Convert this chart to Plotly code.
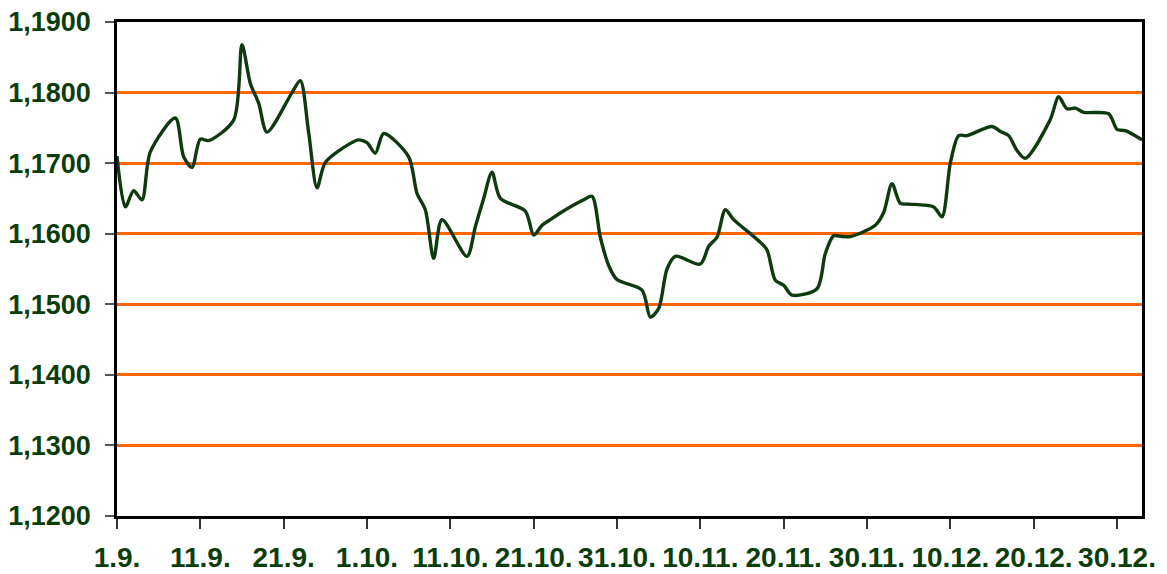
import plotly.graph_objects as go

dates = [
    "2025-09-01", "2025-09-02", "2025-09-03", "2025-09-04", "2025-09-05",
    "2025-09-08", "2025-09-09", "2025-09-10", "2025-09-11", "2025-09-12",
    "2025-09-15", "2025-09-16", "2025-09-17", "2025-09-18", "2025-09-19",
    "2025-09-22", "2025-09-23", "2025-09-24", "2025-09-25", "2025-09-26",
    "2025-09-29", "2025-09-30", "2025-10-01", "2025-10-02", "2025-10-03",
    "2025-10-06", "2025-10-07", "2025-10-08", "2025-10-09", "2025-10-10",
    "2025-10-13", "2025-10-14", "2025-10-15", "2025-10-16", "2025-10-17",
    "2025-10-20", "2025-10-21", "2025-10-22", "2025-10-23", "2025-10-24",
    "2025-10-27", "2025-10-28", "2025-10-29", "2025-10-30", "2025-10-31",
    "2025-11-03", "2025-11-04", "2025-11-05", "2025-11-06", "2025-11-07",
    "2025-11-10", "2025-11-11", "2025-11-12", "2025-11-13", "2025-11-14",
    "2025-11-17", "2025-11-18", "2025-11-19", "2025-11-20", "2025-11-21",
    "2025-11-24", "2025-11-25", "2025-11-26", "2025-11-27", "2025-11-28",
    "2025-12-01", "2025-12-02", "2025-12-03", "2025-12-04", "2025-12-05",
    "2025-12-08", "2025-12-09", "2025-12-10", "2025-12-11", "2025-12-12",
    "2025-12-15", "2025-12-16", "2025-12-17", "2025-12-18", "2025-12-19",
    "2025-12-22", "2025-12-23", "2025-12-24", "2025-12-25", "2025-12-26",
    "2025-12-29", "2025-12-30", "2025-12-31", "2026-01-02",
]

rates = [
    1.1710, 1.1638, 1.1661, 1.1648, 1.1716,
    1.1764, 1.1709, 1.1694, 1.1734, 1.1732,
    1.1761, 1.1868, 1.1813, 1.1785, 1.1744,
    1.1800, 1.1817, 1.1743, 1.1665, 1.1701,
    1.1728, 1.1733, 1.1729, 1.1714, 1.1742,
    1.1709, 1.1657, 1.1634, 1.1565, 1.1620,
    1.1568, 1.1610, 1.1650, 1.1687, 1.1650,
    1.1632, 1.1598, 1.1612, 1.1620, 1.1628,
    1.1648, 1.1653, 1.1595, 1.1555, 1.1535,
    1.1520, 1.1482, 1.1494, 1.1550, 1.1568,
    1.1557, 1.1582, 1.1595, 1.1634, 1.1620,
    1.1590, 1.1577, 1.1534, 1.1527, 1.1513,
    1.1522, 1.1572, 1.1597, 1.1596, 1.1596,
    1.1612, 1.1630, 1.1671, 1.1643, 1.1642,
    1.1638, 1.1624, 1.1700, 1.1739, 1.1739,
    1.1752, 1.1745, 1.1739, 1.1718, 1.1707,
    1.1762, 1.1794, 1.1777, 1.1778, 1.1772,
    1.1770, 1.1748, 1.1746, 1.1733,
]

x_tick_dates = [
    "2025-09-01", "2025-09-11", "2025-09-21", "2025-10-01", "2025-10-11",
    "2025-10-21", "2025-10-31", "2025-11-10", "2025-11-20", "2025-11-30",
    "2025-12-10", "2025-12-20", "2025-12-30",
]
x_tick_labels = [
    "1.9.", "11.9.", "21.9.", "1.10.", "11.10.", "21.10.", "31.10.",
    "10.11.", "20.11.", "30.11.", "10.12.", "20.12.", "30.12.",
]
y_tick_values = [1.12, 1.13, 1.14, 1.15, 1.16, 1.17, 1.18, 1.19]
y_tick_labels = ["1,1200", "1,1300", "1,1400", "1,1500", "1,1600", "1,1700", "1,1800", "1,1900"]

TEXT = "#0B3D0B"
FONT = "Liberation Sans, Arial, sans-serif"

fig = go.Figure()
fig.add_trace(go.Scatter(
    x=dates, y=rates, mode="lines",
    line=dict(color="#0D3B0D", width=3.4, shape="spline", smoothing=0.8),
    showlegend=False, hoverinfo="x+y",
))

# page body has an 8px margin, so the figure is sized to fit the window
fig.update_layout(
    width=1159, height=566,
    margin=dict(l=109, r=25, t=14, b=58),
    paper_bgcolor="white", plot_bgcolor="white",
    font=dict(family=FONT, color=TEXT, size=27),
)
fig.update_xaxes(
    range=["2025-09-01", "2026-01-02"],
    tickmode="array", tickvals=x_tick_dates, ticktext=x_tick_labels,
    tickfont=dict(family=FONT, size=28, color=TEXT, weight="bold"),
    tickangle=0, automargin=False, ticklabeloverflow="allow",
    showgrid=False, zeroline=False,
    showline=True, linecolor="black", linewidth=2.5, mirror=True,
    ticks="outside", ticklen=10, tickwidth=1.5, tickcolor="#333333",
    ticklabelstandoff=5,
)
fig.update_yaxes(
    range=[1.12, 1.19], automargin=False, ticklabeloverflow="allow",
    tickmode="array", tickvals=y_tick_values, ticktext=y_tick_labels,
    tickfont=dict(family=FONT, size=27, color=TEXT, weight="bold"),
    showgrid=True, gridcolor="#FF6600", gridwidth=3,
    zeroline=False,
    showline=True, linecolor="black", linewidth=2.5, mirror=True,
    ticks="outside", ticklen=9, tickwidth=1.5, tickcolor="#555555",
    ticklabelstandoff=9,
)

fig.write_html("out.html")
